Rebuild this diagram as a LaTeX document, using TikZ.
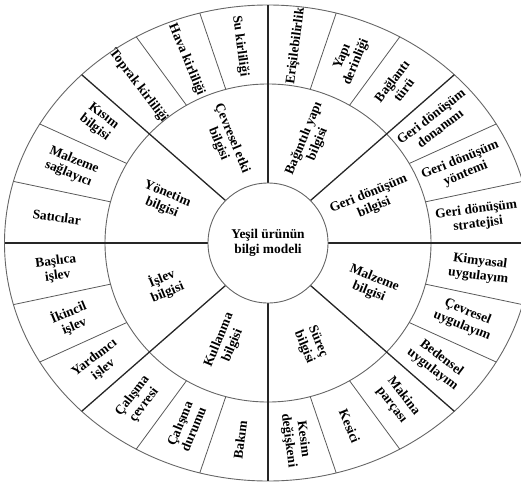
\documentclass[tikz,border=0pt]{standalone}
\usepackage{fontspec}
\setmainfont{Liberation Serif}
\begin{document}
\begin{tikzpicture}[x=1pt,y=1pt,
  ring/.style={draw=black!60, line width=0.9pt},
  sector/.style={draw=black!85, line width=1.3pt},
  subsector/.style={draw=black!65, line width=0.8pt},
  lbl/.style={font=\bfseries\fontsize{13.4}{14.8}\selectfont, align=center, inner sep=0pt}]
\useasboundingbox (0,0) rectangle (521,483);
\coordinate (O) at (268,240);
\begin{scope}[shift={(268,240)}]
  % outer, middle and inner rings
  \draw[ring] (0,0) ellipse [x radius=263.5, y radius=238];
  \draw[ring] (0,0) ellipse [x radius=163, y radius=159];
  % sub-dividers of the outer ring (every 15 degrees)
  \foreach \a in {15,30,60,75,105,120,150,165,195,210,240,255,285,300,330,345}
    \draw[subsector] ({163*cos(\a)},{159*sin(\a)}) -- ({263.5*cos(\a)},{238*sin(\a)});
  % main dividers between the eight categories
  \foreach \a in {0,45,...,315}
    \draw[sector] (\a:60) -- ({263.5*cos(\a)},{238*sin(\a)});
  \draw[ring, fill=white] (0,0) circle [radius=60];

  % centre
  \node[lbl] (centre) at (0,0) {Yeşil ürünün\\bilgi modeli};

  % categories (middle ring)
  \node[lbl, rotate=-67.5] (cevre)  at ({112*cos(112.5)},{110*sin(112.5)}) {Çevresel etki\\bilgisi};
  \node[lbl, rotate=-22.5] (yonet)  at ({112*cos(157.5)},{110*sin(157.5)}) {Yönetim\\bilgisi};
  \node[lbl, rotate=22.5]  (islev)  at ({112*cos(202.5)},{110*sin(202.5)}) {İşlev\\bilgisi};
  \node[lbl, rotate=67.5]  (kullan) at ({110*cos(247.5)},{108*sin(247.5)}) {Kullanma\\bilgisi};
  \node[lbl, rotate=-67.5] (surec)  at ({112*cos(292.5)},{110*sin(292.5)}) {Süreç\\bilgisi};
  \node[lbl, rotate=-22.5] (malz)   at ({112*cos(337.5)},{110*sin(337.5)}) {Malzeme\\bilgisi};
  \node[lbl, rotate=22.5]  (geri)   at ({112*cos(22.5)},{110*sin(22.5)})   {Geri dönüşüm\\bilgisi};
  \node[lbl, rotate=67.5]  (bagin)  at ({112*cos(67.5)},{110*sin(67.5)})   {Bağıntılı yapı\\bilgisi};

  % items (outer ring)
  \node[lbl, rotate=-82.5] (su)     at ({213*cos(97.5)},{198.5*sin(97.5)})   {Su kirliliği};
  \node[lbl, rotate=-67.5] (hava)   at ({213*cos(112.5)},{198.5*sin(112.5)}) {Hava kirliliği};
  \node[lbl, rotate=-52.5] (toprak) at ({213*cos(127.5)},{198.5*sin(127.5)}) {Toprak kirliliği};
  \node[lbl, rotate=-37.5] (kisim)  at ({213*cos(142.5)},{198.5*sin(142.5)}) {Kısım\\bilgisi};
  \node[lbl, rotate=-22.5] (sagla)  at ({213*cos(157.5)},{198.5*sin(157.5)}) {Malzeme\\sağlayıcı};
  \node[lbl, rotate=-7.5]  (satici) at ({213*cos(172.5)},{198.5*sin(172.5)}) {Satıcılar};
  \node[lbl, rotate=7.5]   (basli)  at ({213*cos(187.5)},{198.5*sin(187.5)}) {Başlıca\\işlev};
  \node[lbl, rotate=22.5]  (ikinc)  at ({213*cos(202.5)},{198.5*sin(202.5)}) {İkincil\\işlev};
  \node[lbl, rotate=37.5]  (yardim) at ({213*cos(217.5)},{198.5*sin(217.5)}) {Yardımcı\\işlev};
  \node[lbl, rotate=52.5]  (cevres) at ({213*cos(232.5)},{198.5*sin(232.5)}) {Çalışma\\çevresi};
  \node[lbl, rotate=67.5]  (durum)  at ({213*cos(247.5)},{198.5*sin(247.5)}) {Çalışma\\durumu};
  \node[lbl, rotate=82.5]  (bakim)  at ({213*cos(262.5)},{198.5*sin(262.5)}) {Bakım};
  \node[lbl, rotate=-82.5] (kesim)  at ({213*cos(277.5)},{198.5*sin(277.5)}) {Kesim\\değişkeni};
  \node[lbl, rotate=-67.5] (kesici) at ({213*cos(292.5)},{198.5*sin(292.5)}) {Kesici};
  \node[lbl, rotate=-52.5] (makina) at ({213*cos(307.5)},{198.5*sin(307.5)}) {Makina\\parçası};
  \node[lbl, rotate=-37.5] (beden)  at ({213*cos(322.5)},{198.5*sin(322.5)}) {Bedensel\\uygulayım};
  \node[lbl, rotate=-22.5] (cevuy)  at ({213*cos(337.5)},{198.5*sin(337.5)}) {Çevresel\\uygulayım};
  \node[lbl, rotate=-7.5]  (kimya)  at ({213*cos(352.5)},{198.5*sin(352.5)}) {Kimyasal\\uygulayım};
  \node[lbl, rotate=7.5]   (strat)  at ({211*cos(7.5)},{198.5*sin(7.5)})     {Geri dönüşüm\\stratejisi};
  \node[lbl, rotate=22.5]  (yontem) at ({211*cos(22.5)},{198.5*sin(22.5)})   {Geri dönüşüm\\yöntemi};
  \node[lbl, rotate=37.5]  (donan)  at ({211*cos(37.5)},{198.5*sin(37.5)})   {Geri dönüşüm\\donanımı};
  \node[lbl, rotate=52.5]  (bagl)   at ({213*cos(52.5)},{198.5*sin(52.5)})   {Bağlantı\\türü};
  \node[lbl, rotate=67.5]  (yapi)   at ({213*cos(67.5)},{198.5*sin(67.5)})   {Yapı\\derinliği};
  \node[lbl, rotate=82.5]  (erisim) at ({213*cos(82.5)},{198.5*sin(82.5)})   {Erişilebilirlik};
\end{scope}
\end{tikzpicture}
\end{document}
